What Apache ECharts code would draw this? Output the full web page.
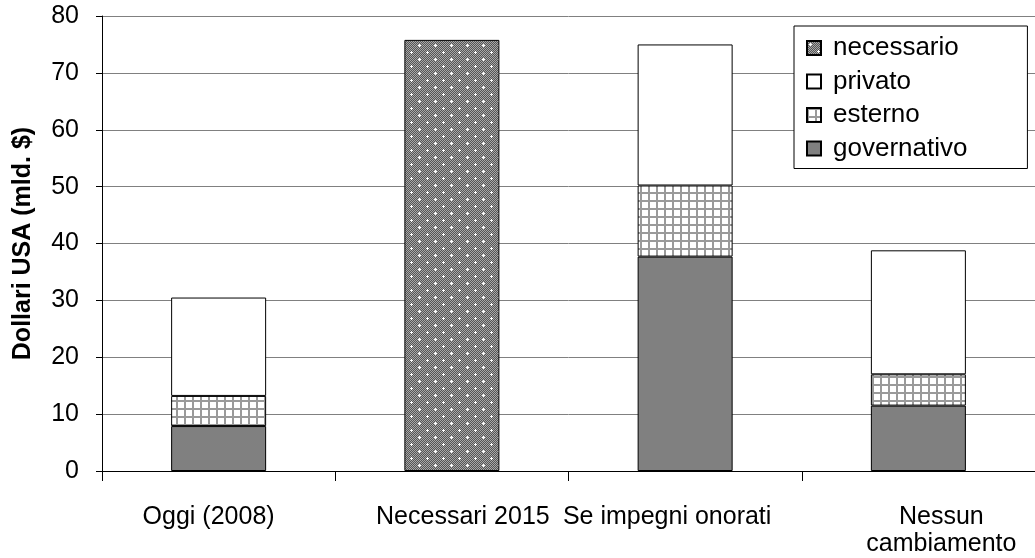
<!DOCTYPE html>
<html>
<head>
<meta charset="utf-8">
<script src="https://cdn.jsdelivr.net/npm/echarts@6/dist/echarts.min.js"></script>
<style>
  html, body { margin: 0; padding: 0; background: #fff; }
  #chart { width: 1035px; height: 558px; }
</style>
</head>
<body>
<div id="chart"></div>
<script>
const categories = ["Oggi (2008)", "Necessari 2015", "Se impegni onorati", "Nessun\ncambiamento"];
const governativo = [7.9, "-", 37.7, 11.5];
const esterno = [5.3, "-", 12.5, 5.5];
const privato = [17.3, "-", 24.8, 21.8];
const necessario = ["-", 75.8, "-", "-"];
const yTicks = { min: 0, max: 80, interval: 10 };

// labels in the original sit a bit off the bar centres
const labelPad = [[0, 20, 0, 0], [0, 0, 0, 22], [0, 36, 0, 0], [0, 0, 0, 46]];

function makeTile(w, h, draw) {
  const c = document.createElement("canvas");
  c.width = w; c.height = h;
  draw(c.getContext("2d"));
  return c;
}
// dark checker with white dots in a staggered lattice
const dotTile = makeTile(16, 14, function (ctx) {
  for (let y = 0; y < 14; y++) {
    for (let x = 0; x < 16; x++) {
      ctx.fillStyle = (x + y) % 2 ? "#555555" : "#a8a8a8";
      ctx.fillRect(x, y, 1, 1);
    }
  }
  ctx.fillStyle = "#ffffff";
  ctx.fillRect(3, 2, 1, 3); ctx.fillRect(2, 3, 3, 1);
  ctx.fillRect(11, 9, 1, 3); ctx.fillRect(10, 10, 3, 1);
});
const gridTile = makeTile(8, 8, function (ctx) {
  ctx.fillStyle = "#ffffff";
  ctx.fillRect(0, 0, 8, 8);
  ctx.fillStyle = "#9a9a9a";
  ctx.fillRect(0, 0, 8, 2);
  ctx.fillRect(0, 0, 2, 8);
});

const chart = echarts.init(document.getElementById("chart"));
const border = { borderColor: "#000", borderWidth: 1 };
const font = "Liberation Sans, Arial, sans-serif";

chart.setOption({
  animation: false,
  textStyle: { fontFamily: font, color: "#000" },
  grid: { left: 102, right: -6, top: 16, bottom: 86 },
  legend: {
    orient: "vertical",
    left: 794,
    top: 26,
    padding: [9, 60, 7, 12],
    itemGap: 7.5,
    itemWidth: 14,
    itemHeight: 14,
    icon: "rect",
    backgroundColor: "#fff",
    borderColor: "#000",
    borderWidth: 1,
    borderRadius: 0,
    textStyle: { fontSize: 26, lineHeight: 26, color: "#000", fontFamily: font, padding: [0, 0, 0, 7] },
    data: ["necessario", "privato", "esterno", "governativo"]
  },
  xAxis: {
    type: "category",
    data: categories.map(function (c, i) {
      return { value: c, textStyle: { padding: labelPad[i] } };
    }),
    axisLine: { lineStyle: { color: "#000", width: 1 } },
    axisTick: { show: true, length: 10, lineStyle: { color: "#000" } },
    axisLabel: { fontSize: 25, color: "#000", margin: 33, lineHeight: 27, interval: 0, fontFamily: font }
  },
  yAxis: {
    type: "value",
    min: yTicks.min,
    max: yTicks.max,
    interval: yTicks.interval,
    name: "Dollari USA (mld. $)",
    nameLocation: "middle",
    nameGap: 66,
    nameTextStyle: { fontSize: 25, fontWeight: "bold", color: "#000", fontFamily: font },
    axisLine: { show: true, lineStyle: { color: "#000" } },
    axisTick: { show: true, length: 6, lineStyle: { color: "#000" } },
    axisLabel: { fontSize: 25, color: "#000", margin: 23, fontFamily: font },
    splitLine: { show: true, lineStyle: { color: "#808080", width: 1 } }
  },
  series: [
    {
      name: "governativo", type: "bar", stack: "s", barWidth: 95,
      data: governativo,
      itemStyle: Object.assign({ color: "#808080" }, border)
    },
    {
      name: "esterno", type: "bar", stack: "s",
      data: esterno,
      itemStyle: Object.assign({ color: { image: gridTile, repeat: "repeat" } }, border)
    },
    {
      name: "privato", type: "bar", stack: "s",
      data: privato,
      itemStyle: Object.assign({ color: "#ffffff" }, border)
    },
    {
      name: "necessario", type: "bar", stack: "s",
      data: necessario,
      itemStyle: Object.assign({ color: { image: dotTile, repeat: "repeat" } }, border)
    }
  ]
});
</script>
</body>
</html>
